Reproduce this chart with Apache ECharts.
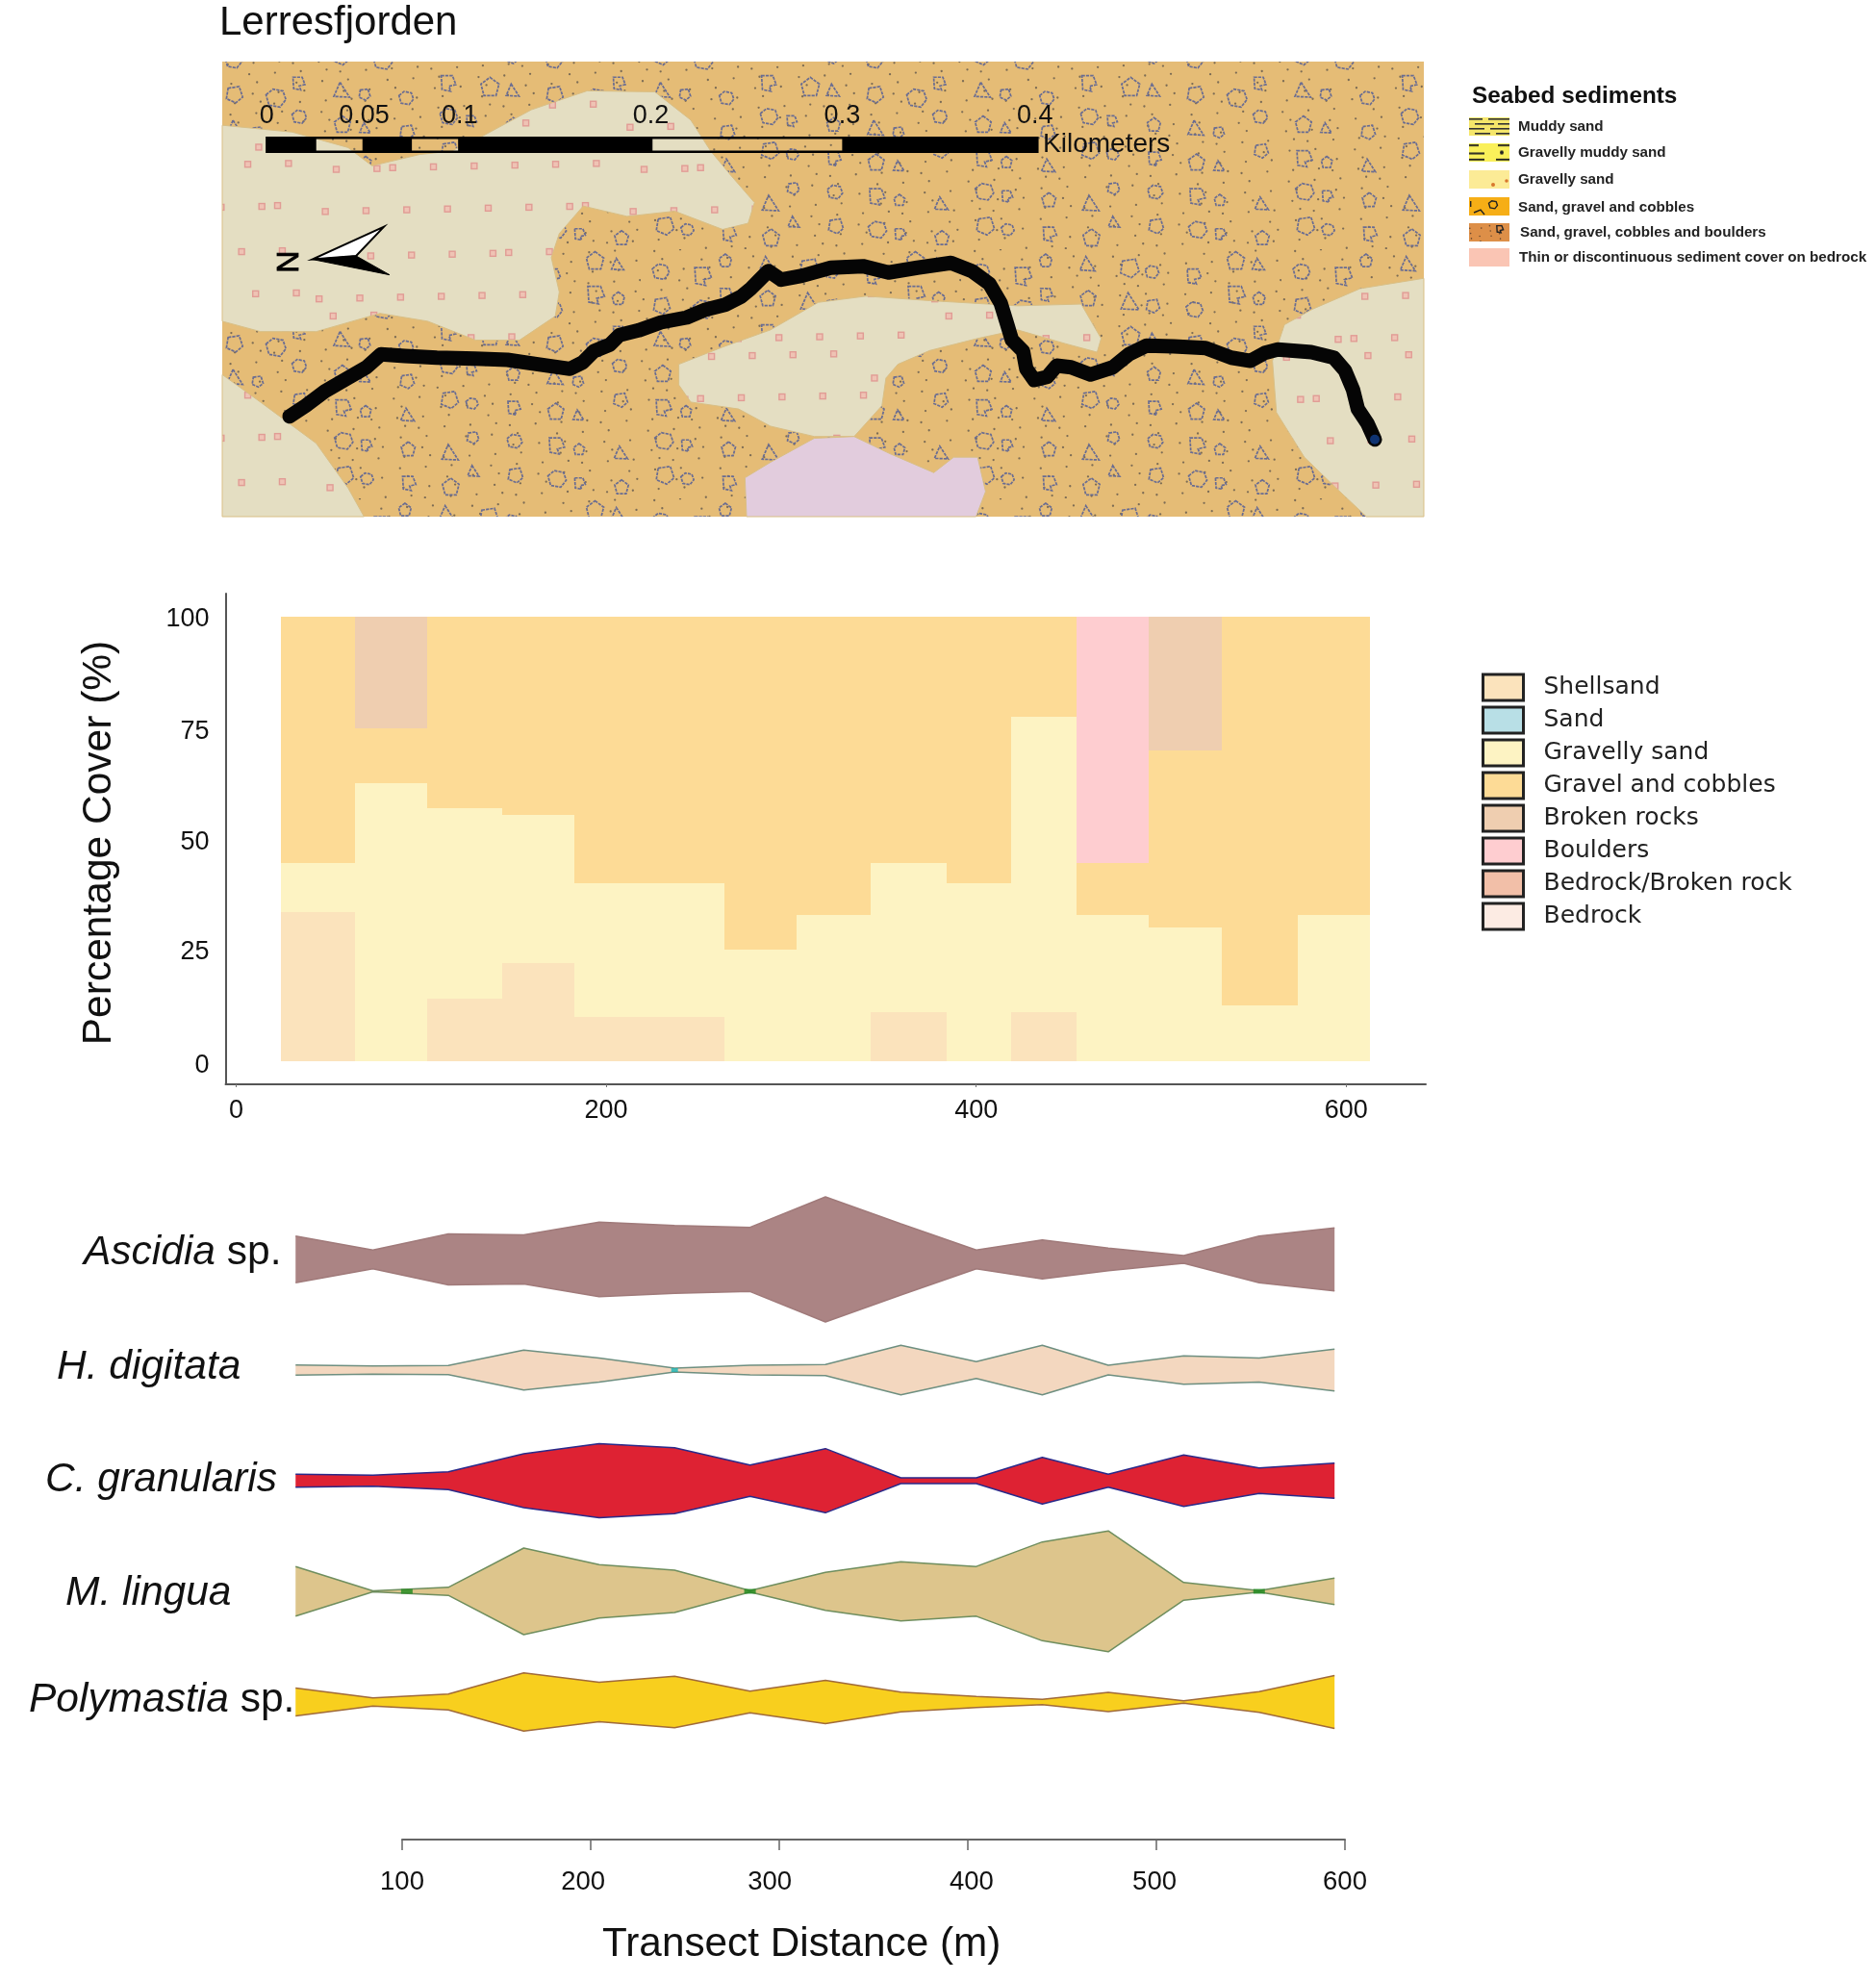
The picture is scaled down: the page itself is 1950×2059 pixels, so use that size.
<!DOCTYPE html>
<html>
<head>
<meta charset="utf-8">
<style>html,body{margin:0;padding:0;background:#fff}#c{width:1950px;height:2059px}</style>
<script src="https://cdn.jsdelivr.net/npm/echarts@6/dist/echarts.min.js"></script>
</head>
<body>
<div id="c"></div>
<script>
// ---------- map (coordinates are read in the map's own sheet units) ----------
const mapFrame = [[12,180],[1520,180],[1520,1503],[12,1503]];
const beigeNorth = [[12,365],[100,385],[170,430],[200,483],[260,450],[300,440],[340,395],[400,320],[470,265],[555,268],[600,350],[625,440],[650,510],[680,590],[672,650],[640,668],[580,615],[520,630],[465,600],[435,680],[425,750],[435,850],[430,920],[385,990],[330,990],[270,935],[210,912],[130,965],[60,965],[12,935]];
const beigeCorner = [[12,1090],[60,1170],[95,1230],[130,1290],[170,1420],[190,1503],[12,1503]];
const beigeMiddle = [[585,1060],[640,1010],[700,960],[760,880],[820,862],[900,875],[1010,890],[1090,885],[1115,985],[1110,1025],[1070,1000],[1010,960],[960,985],[900,1020],[860,1060],[845,1100],[840,1180],[805,1270],[755,1270],[700,1240],[660,1190],[600,1170],[585,1120]];
const beigeEast = [[1520,810],[1440,840],[1380,900],[1345,945],[1330,1050],[1335,1200],[1370,1330],[1410,1420],[1448,1503],[1520,1503]];
const purplePatch = [[670,1503],[668,1390],[700,1345],[755,1275],[805,1270],[850,1320],[905,1375],[930,1330],[960,1330],[970,1430],[958,1503]];
// transect track, read in page pixels along the sheet
const trackRead = [[300,432.7],[316.7,421.7],[336.7,406.7],[360,393.3],[380,381.7],[395,368.3],[420,370],[453.3,371.7],[493.3,372.7],[526.7,374],[556.7,378.3],[591.7,383.3],[605,376.7],[616.7,365],[633.3,358.3],[643.3,348.3],[663.3,343.3],[686.7,335],[713.3,330],[733.3,321.7],[753.3,316.7],[770,308.3],[780,300],[788.3,291.7],[798.3,281.7],[811.7,290.7],[833.3,286.7],[863.3,278.3],[896.7,276.7],[923.3,283.3],[953.3,278.3],[988.3,273.3],[1010,281.7],[1028.3,295],[1040,315],[1046.7,336.7],[1051.7,353.3],[1063.3,365],[1066.7,383.3],[1075,395],[1088.3,391.7],[1098.3,380],[1113.3,381.7],[1133.3,389.3],[1156.7,381.7],[1173.3,368.3],[1191.7,359.3],[1220,360],[1253.3,361.7],[1280,371.7],[1300,375],[1315,366.7],[1328.3,363.3],[1363.3,366],[1386.7,371.7],[1398.3,385],[1406.7,405],[1411.7,425],[1421.7,440],[1429.3,456.7]];
const trackEndRead = [[1429.3,456.7]];
const toSheet = q => [(q[0]-220)*1.206, q[1]*2.8];
const trackPoints = trackRead.map(toSheet);
const trackEnd = trackEndRead.map(toSheet);
const scaleTicks = [0,0.05,0.1,0.2,0.3,0.4];
const scaleTickX = [68,190,310,550,790,1032];
const scaleBlack = [[68,130],[188,250],[308,552],[790,1035]];

const seabedTitle = 'Seabed sediments';
const seabedNames = ['Muddy sand','Gravelly muddy sand','Gravelly sand','Sand, gravel and cobbles','Sand, gravel, cobbles and boulders','Thin or discontinuous sediment cover on bedrock'];

// ---------- percentage cover ----------
const binEdges = [24,64,103,144,183,224,264,303,343,384,419,454,493,533,574,613];
const shellsand =    [33.5,0,14,22,10,10,0,0,11,0,11,0,0,0,0];
const gravellySand = [11,62.5,43,33.5,30,30,25,33,33.5,40,66.5,33,30,12.5,33];
const gravelCobbles =[55.5,12.5,43,44.5,60,60,75,67,55.5,60,22.5,11.5,40,87.5,67];
const brokenRocks =  [0,25,0,0,0,0,0,0,0,0,0,0,30,0,0];
const boulders =     [0,0,0,0,0,0,0,0,0,0,0,55.5,0,0,0];
const coverNames = ['Shellsand','Sand','Gravelly sand','Gravel and cobbles','Broken rocks','Boulders','Bedrock/Broken rock','Bedrock'];
const coverColors = ['#FBE3BC','#B8DFE6','#FDF3C3','#FDDB96','#EFCEB0','#FECDD0','#F2BFA8','#FCEBE3'];
const coverTicksX = [0,200,400,600];
const coverTicksY = [0,25,50,75,100];
const coverTickLabelAtY = [-1,24.5,49.2,74.1,99.4];

// ---------- species kites (half widths) ----------
const kiteDistance = [44,85,125,165,205,245,285,325,365,405,440,475,515,555,595];
const ascidia =     [72.5,29.5,79.5,76.5,116.5,106,100,195,111,29.5,60.5,35,12,72.5,98.5];
const hDigitata =   [16,13,14,62.5,37.5,6,15,17,77.5,26.5,77.5,15,44,37.5,65];
const cGranularis = [20.5,17.5,27.5,84,115.5,102.5,48.5,100,9,9,73,20.5,80.5,40,55];
const mLingua =     [77.5,1.5,12.5,135,83.5,66,2,59,92.5,77.5,154,188.5,27.5,2,41];
const polymastia =  [43.5,12.5,24.5,91,61.5,80,33.5,67.5,31,17.5,8,30,4,32.5,82.5];
const kiteTicks = [100,200,300,400,500,600];
const kiteTickLabelAt = [100,196,295,402,499,600];
const hDigitataPinch = [[245,0]];
const mLinguaPinch = [[103,0],[285,0],[555,0]];

// ---------- drawing helpers (texture only) ----------
const FONT = '"Liberation Sans", Arial, sans-serif';
const frac = v => v - Math.floor(v);
function canvasOf(w,h,draw){const c=document.createElement('canvas');c.width=w;c.height=h;draw(c.getContext('2d'),w,h);return c;}
function pebble(g,x,y,k,s){
  const shapes=[[[-1,-.4],[-.3,-1],[.7,-.8],[1,.1],[.4,.9],[-.7,.7]],[[0,-1],[.9,-.3],[.6,.9],[-.6,.9],[-.9,-.3]],[[-.7,-.8],[.6,-1],[1,.3],[.2,1],[-.9,.5]],[[-.8,-.9],[.5,-.9],[.9,.2],[.1,.4],[.3,1],[-.7,.8]],[[-.2,-1],[.9,.8],[-.9,.7]]];
  const p=shapes[k%5];g.beginPath();p.forEach((q,i)=>{const X=x+q[0]*s,Y=y+q[1]*s*.95;i?g.lineTo(X,Y):g.moveTo(X,Y);});g.closePath();g.stroke();
}
function dots(g,w,h,n,r){for(let i=1;i<=n;i++){g.beginPath();g.arc(frac(i*.7548777)*w,frac(i*.5698403)*h,r,0,7);g.fill();}}
const orangeTile = canvasOf(333,259,(g,w,h)=>{
  g.fillStyle='#E5BC76';g.fillRect(0,0,w,h);
  g.fillStyle='#7c6c55';dots(g,w,h,290,1.15);
  g.strokeStyle='#696C92';g.lineWidth=1.7;g.setLineDash([3.2,1.1]);
  for(let i=0;i<9;i++)for(let j=0;j<7;j++){
    const u=frac((i*7+j*13+1)*.618),v=frac((i*11+j*5+2)*.382);
    pebble(g,(i+.5)*37+(u-.5)*20,(j+.5)*37+(v-.5)*20,i*3+j*7,6+u*4.5);
  }
});
const beigeTile = canvasOf(320,240,(g,w,h)=>{
  g.fillStyle='#E4DEC2';g.fillRect(0,0,w,h);g.fillStyle='#EFC3B4';g.strokeStyle='#E19C95';g.lineWidth=1.4;
  for(let i=0;i<8;i++)for(let j=0;j<6;j++){
    const u=frac((i*5+j*9+1)*.618),v=frac((i*13+j*3+2)*.382);
    const x=(i+.5)*40+(u-.5)*26-3,y=(j+.5)*40+(v-.5)*26-3;
    g.fillRect(x,y,6,6);g.strokeRect(x,y,6,6);
  }
});
const swatches = [
 canvasOf(42,19,(g,w,h)=>{g.fillStyle='#F5E66A';g.fillRect(0,0,w,h);g.fillStyle='#333';[[0,1,14],[20,1,22],[6,6,20],[30,6,12],[0,11,16],[22,11,20],[6,16,16],[28,16,14]].forEach(a=>g.fillRect(a[0],a[1],a[2],1.6));}),
 canvasOf(42,18,(g,w,h)=>{g.fillStyle='#FAF05A';g.fillRect(0,0,w,h);g.fillStyle='#222';[[0,1,10],[30,1,12],[0,9,16],[0,15,16],[28,15,14]].forEach(a=>g.fillRect(a[0],a[1],a[2],1.8));g.beginPath();g.arc(34,9,2,0,7);g.fill();}),
 canvasOf(42,19,(g,w,h)=>{g.fillStyle='#FCEB96';g.fillRect(0,0,w,h);g.fillStyle='#D8772E';g.beginPath();g.arc(25,15,2,0,7);g.arc(39,11,1.8,0,7);g.fill();}),
 canvasOf(42,19,(g,w,h)=>{g.fillStyle='#F6AE16';g.fillRect(0,0,w,h);g.strokeStyle='#222';g.lineWidth=1.4;pebble(g,25,8,0,4.5);g.beginPath();g.moveTo(5,16);g.lineTo(12,13);g.lineTo(16,18);g.stroke();g.fillStyle='#222';g.fillRect(1,4,1.4,6);}),
 canvasOf(42,19,(g,w,h)=>{g.fillStyle='#DD8F48';g.fillRect(0,0,w,h);g.fillStyle='#6b4a30';dots(g,w,h,12,.8);g.strokeStyle='#222';g.lineWidth=1.4;pebble(g,32,6,3,4);}),
 canvasOf(42,19,(g,w,h)=>{g.fillStyle='#FAC5B4';g.fillRect(0,0,w,h);})
];
const seabedSwatchY = [122,149,177,205,232,258];
const seabedTextY = [132,159,187,216,242,268];
const seabedTextX = [1578,1578,1578,1578,1580,1579];

// ---------- series builders ----------
function polygonSeries(regions,fill,stroke){
  return {type:'custom',xAxisIndex:0,yAxisIndex:0,coordinateSystem:'cartesian2d',silent:true,
    data:regions.map((r,i)=>[r[0][0],r[0][1],i]),
    renderItem:(p,api)=>({type:'polygon',shape:{points:regions[api.value(2)].map(q=>api.coord(q))},
      style:{fill:fill,stroke:stroke||null,lineWidth:1}})};
}
const coverStack = [shellsand,new Array(15).fill(0),gravellySand,gravelCobbles,brokenRocks,boulders,new Array(15).fill(0),new Array(15).fill(0)];
const cumulative = new Array(15).fill(0);
const coverSeries = coverNames.map((name,s)=>{
  const rows=[];
  coverStack[s].forEach((v,i)=>{
    if(v>0) rows.push([binEdges[i],binEdges[i+1],cumulative[i],cumulative[i]+v]);
    cumulative[i]+=v;
  });
  return {name,type:'custom',xAxisIndex:1,yAxisIndex:1,data:rows,itemStyle:{color:coverColors[s]},
    encode:{x:[0,1],y:[2,3]},
    renderItem:(p,api)=>{
      const a=api.coord([api.value(0),api.value(3)]),b=api.coord([api.value(1),api.value(2)]);
      const x=Math.round(a[0]),y=Math.round(a[1]);
      return {type:'rect',shape:{x,y,width:Math.round(b[0])-x,height:Math.round(b[1])-y},style:{fill:coverColors[s]}};
    }};
});
const kiteRows = [
 {name:'Ascidia',v:ascidia,center:1309,fill:'#AB8484',edge:'#A07A7A'},
 {name:'H. digitata',v:hDigitata,center:1424,fill:'#F3D7BF',edge:'#6E8F80',pinch:hDigitataPinch,pinchColor:'#19B5B5',pinchSize:[7,4]},
 {name:'C. granularis',v:cGranularis,center:1539,fill:'#DE2233',edge:'#2A2A8A'},
 {name:'M. lingua',v:mLingua,center:1654,fill:'#DDC58C',edge:'#6F8E5E',pinch:mLinguaPinch,pinchColor:'#1E8A1E',pinchSize:[12,5]},
 {name:'Polymastia',v:polymastia,center:1769,fill:'#F8CF1E',edge:'#A06A3A'}
];
const kiteGrids=[],kiteX=[],kiteY=[],kiteSeries=[];
kiteRows.forEach((r,i)=>{
  kiteGrids.push({left:299.4,width:1097.6,top:r.center-70,height:140,containLabel:false});
  kiteX.push({type:'value',gridIndex:i+2,min:40,max:600,show:false});
  kiteY.push({type:'value',gridIndex:i+2,min:-210,max:210,show:false});
  [1,-1].forEach(sign=>kiteSeries.push({name:r.name,type:'line',xAxisIndex:i+2,yAxisIndex:i+2,symbol:'none',silent:true,
    data:r.v.map((h,k)=>[kiteDistance[k],sign*h]),
    lineStyle:{color:r.edge,width:1.5},areaStyle:{color:r.fill,opacity:1,origin:'auto'},itemStyle:{color:r.fill}}));
  if(r.pinch) kiteSeries.push({type:'scatter',xAxisIndex:i+2,yAxisIndex:i+2,symbol:'rect',symbolSize:r.pinchSize,silent:true,
    data:r.pinch,itemStyle:{color:r.pinchColor},z:5});
});
const labelFont = {i:{fontFamily:FONT,fontSize:42.5,fontStyle:'italic',fill:'#111',color:'#111'},r:{fontFamily:FONT,fontSize:42.5,fill:'#111',color:'#111'}};
const rowLabels = [['{i|Ascidia }{r|sp.}',87,1302],['{i|H. digitata}',59,1421],['{i|C. granularis}',47,1538],['{i|M. lingua}',68,1656],['{i|Polymastia }{r|sp.}',30,1767]];
function txt(text,x,y,font,fill,extra){return Object.assign({type:'text',x,y,silent:true,style:{text,font,fill:fill||'#111',align:'left',verticalAlign:'middle'}},extra||{});}

const graphics = [
 txt('Lerresfjorden',228,24,'42px '+FONT),
 txt(seabedTitle,1530,100,'bold 24.3px '+FONT),
 txt('Transect Distance (m)',626,2021,'42.3px '+FONT)
];
seabedNames.forEach((n,i)=>{
  graphics.push({type:'image',x:1527,y:seabedSwatchY[i],style:{image:swatches[i],width:42,height:19}});
  graphics.push(txt(n,seabedTextX[i],seabedTextY[i],'bold 15.2px '+FONT,'#222'));
});
rowLabels.forEach(l=>graphics.push({type:'text',x:l[1],y:l[2],silent:true,style:{text:l[0],rich:labelFont,fill:'#111',align:'left',verticalAlign:'middle'}}));

const axisLine = {show:true,lineStyle:{color:'#555',width:2}};
const option = {
  backgroundColor:'#ffffff',animation:false,
  grid:[
    {left:231,top:64,width:1249,height:473},
    {left:234.5,top:617,width:1247.5,height:510},
    ...kiteGrids,
    {left:418,top:1812,width:980,height:100}
  ],
  xAxis:[
    {type:'value',gridIndex:0,min:12,max:1520,show:false},
    {type:'value',gridIndex:1,min:-5.7,max:643,splitLine:{show:false},axisLine:Object.assign({},axisLine,{onZero:false}),
      axisTick:{show:true,length:3,customValues:coverTicksX,lineStyle:{color:'#777'}},
      axisLabel:{customValues:coverTicksX,color:'#111',fontSize:27,fontFamily:FONT,margin:14}},
    ...kiteX,
    {type:'value',gridIndex:7,min:100,max:600,position:'bottom',splitLine:{show:false},
      axisLine:{show:true,onZero:false,lineStyle:{color:'#666',width:2}},
      axisTick:{show:true,length:11,customValues:kiteTicks,lineStyle:{color:'#666',width:1.5}},
      axisLabel:{color:'#111',fontSize:27.5,fontFamily:FONT,margin:30,customValues:kiteTickLabelAt,
        formatter:v=>String(kiteTicks[kiteTickLabelAt.indexOf(v)])}}
  ],
  yAxis:[
    {type:'value',gridIndex:0,min:180,max:1503,inverse:true,show:false},
    {type:'value',gridIndex:1,min:-5.2,max:105.2,splitLine:{show:false},axisLine:Object.assign({},axisLine,{onZero:false}),
      axisTick:{show:false},axisLabel:{customValues:coverTickLabelAtY,color:'#111',fontSize:27,fontFamily:FONT,margin:17,
        formatter:v=>String(coverTicksY[coverTickLabelAtY.indexOf(v)])},
      name:'Percentage Cover (%)',nameLocation:'middle',nameGap:110,nameRotate:90,
      nameTextStyle:{fontFamily:FONT,fontSize:42.5,color:'#111',padding:[0,8,0,0]}},
    ...kiteY,
    {type:'value',gridIndex:7,min:0,max:1,show:false}
  ],
  legend:{show:true,orient:'vertical',left:1540,top:699.5,padding:0,itemWidth:42,itemHeight:27,itemGap:4,
    selectedMode:false,icon:'rect',
    textStyle:{fontFamily:'"DejaVu Sans", sans-serif',fontSize:25,lineHeight:27,color:'#222',padding:[0,0,0,16]},
    data:coverNames.map((n,i)=>({name:n,icon:'rect',itemStyle:{color:coverColors[i],borderColor:'#222',borderWidth:3}}))},
  graphic:{elements:graphics},
  series:[
    polygonSeries([mapFrame],{image:orangeTile,repeat:'repeat'}),
    polygonSeries([beigeNorth,beigeCorner,beigeMiddle,beigeEast],{image:beigeTile,repeat:'repeat'},'#D9BF85'),
    polygonSeries([purplePatch],'#E2CCDD','#D9BF85'),
    {type:'line',xAxisIndex:0,yAxisIndex:0,data:trackPoints,symbol:'none',silent:true,lineStyle:{color:'#050505',width:15,cap:'round',join:'round'},z:3},
    {type:'scatter',xAxisIndex:0,yAxisIndex:0,data:trackEnd,symbolSize:10,silent:true,itemStyle:{color:'#123F8C'},z:4},
    // scale bar frame and filled segments
    {type:'custom',xAxisIndex:0,yAxisIndex:0,silent:true,z:4,data:scaleBlack,
      renderItem:(p,api)=>{
        const a=api.coord([api.value(0),398]),b=api.coord([api.value(1),446]);
        const c=[{type:'rect',shape:{x:a[0],y:a[1],width:b[0]-a[0],height:b[1]-a[1]},style:{fill:'#000'}}];
        if(p.dataIndex===0){
          const l=api.coord([68,398]),r=api.coord([1035,446]);
          c.push({type:'rect',shape:{x:l[0],y:l[1]+1.25,width:r[0]-l[0],height:r[1]-l[1]-2.5},style:{fill:'none',stroke:'#000',lineWidth:2.5}});
        }
        return {type:'group',children:c};
      }},
    {type:'custom',xAxisIndex:0,yAxisIndex:0,silent:true,z:5,data:scaleTicks.map((t,i)=>[scaleTickX[i],338,t]),
      renderItem:(p,api)=>{const a=api.coord([api.value(0),api.value(1)]);
        return {type:'text',x:a[0],y:a[1],style:{text:String(api.value(2)),font:'27px '+FONT,fill:'#111',align:'center',verticalAlign:'middle'}};}},
    {type:'custom',xAxisIndex:0,yAxisIndex:0,silent:true,z:5,data:[[1042,420]],
      renderItem:(p,api)=>{const a=api.coord([api.value(0),api.value(1)]);
        return {type:'text',x:a[0],y:a[1],style:{text:'Kilometers',font:'28px '+FONT,fill:'#111',align:'left',verticalAlign:'middle'}};}},
    // north arrow
    {type:'custom',xAxisIndex:0,yAxisIndex:0,silent:true,z:5,data:[[125,755]],
      renderItem:(p,api)=>{
        const pt=q=>api.coord(q);
        const n=pt([97,762]);
        return {type:'group',children:[
          {type:'polygon',shape:{points:[pt([215,660]),pt([125,755]),pt([180,745])]},style:{fill:'#fff',stroke:'#000',lineWidth:2}},
          {type:'polygon',shape:{points:[pt([125,755]),pt([222,800]),pt([180,745])]},style:{fill:'#000',stroke:'#000',lineWidth:1}},
          {type:'text',x:n[0],y:n[1],rotation:Math.PI/2,style:{text:'N',font:'32px '+FONT,fill:'#000',stroke:'#000',lineWidth:0.8,align:'center',verticalAlign:'middle'}}
        ]};
      }},
    ...coverSeries,
    ...kiteSeries,
    {type:'line',xAxisIndex:7,yAxisIndex:7,data:[],silent:true}
  ]
};
const chart = echarts.init(document.getElementById('c'),null,{renderer:'canvas',width:1950,height:2059});
chart.setOption(option);
</script>
</body>
</html>
